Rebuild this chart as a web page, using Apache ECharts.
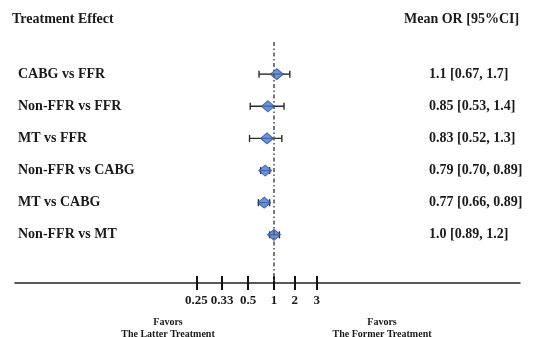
<!DOCTYPE html>
<html>
<head>
<meta charset="utf-8">
<script src="https://cdn.jsdelivr.net/npm/echarts@6/dist/echarts.min.js"></script>
<style>
  html, body { margin: 0; padding: 0; background: #fff; }
  #container { width: 538px; height: 337px; }
</style>
</head>
<body>
<div id="container"></div>
<script>
// forest plot
var dom = document.getElementById('container');
var myChart = echarts.init(dom, null, { renderer: 'canvas' });
var option;

// data
var comparisons = ['CABG vs FFR', 'Non-FFR vs FFR', 'MT vs FFR', 'Non-FFR vs CABG', 'MT vs CABG', 'Non-FFR vs MT'];
var meanOR = [1.1, 0.85, 0.83, 0.79, 0.77, 1.0];
var lowerCI = [0.67, 0.53, 0.52, 0.70, 0.66, 0.89];
var upperCI = [1.7, 1.4, 1.3, 0.89, 0.89, 1.2];
var ciText = ['1.1 [0.67, 1.7]', '0.85 [0.53, 1.4]', '0.83 [0.52, 1.3]', '0.79 [0.70, 0.89]', '0.77 [0.66, 0.89]', '1.0 [0.89, 1.2]'];

// axis ticks (the plot's own OR scale, not evenly logarithmic)
var tickOR = [0.25, 0.33, 0.5, 1, 2, 3];
var tickLabels = ['0.25', '0.33', '0.5', '1', '2', '3'];
var tickPos = [-3, -2, -1, 0, 0.8, 1.65];

// OR -> axis position, piecewise in log space between tick anchors
function scaleOR(v) {
    var n = tickOR.length;
    var i = 0;
    while (i < n - 2 && v > tickOR[i + 1]) i++;
    var a = Math.log(tickOR[i]), b = Math.log(tickOR[i + 1]);
    var f = (Math.log(v) - a) / (b - a);
    return tickPos[i] + f * (tickPos[i + 1] - tickPos[i]);
}

var font = 'Liberation Serif, Times New Roman, serif';
var ink = '#1a1a1a';

var whiskerData = [];
var pointData = [];
for (var i = 0; i < comparisons.length; i++) {
    whiskerData.push([scaleOR(lowerCI[i]), scaleOR(upperCI[i]), i + 1]);
    pointData.push([scaleOR(meanOR[i]), i + 1]);
}

function renderWhisker(params, api) {
    var p1 = api.coord([api.value(0), api.value(2)]);
    var p2 = api.coord([api.value(1), api.value(2)]);
    var h = 3.5;
    var st = { stroke: '#2b2b2b', lineWidth: 1.4 };
    return {
        type: 'group',
        children: [
            { type: 'line', shape: { x1: p1[0], y1: p1[1], x2: p2[0], y2: p2[1] }, style: st },
            { type: 'line', shape: { x1: p1[0], y1: p1[1] - h, x2: p1[0], y2: p1[1] + h }, style: st },
            { type: 'line', shape: { x1: p2[0], y1: p2[1] - h, x2: p2[0], y2: p2[1] + h }, style: st }
        ]
    };
}

var xBase = {
    type: 'value',
    min: -10,
    max: 9.5,
    splitLine: { show: false },
    position: 'bottom'
};

option = {
    animation: false,
    title: [
        {
            text: 'Treatment Effect',
            left: 12, top: 12, padding: 0,
            textStyle: { fontFamily: font, fontSize: 14, fontWeight: 'bold', color: ink }
        },
        {
            text: 'Mean OR [95%CI]',
            left: 404, top: 12, padding: 0,
            textStyle: { fontFamily: font, fontSize: 14, fontWeight: 'bold', color: ink }
        }
    ],
    grid: { left: 15, right: 18, top: 42, bottom: 54, containLabel: false },
    xAxis: [
        Object.assign({}, xBase, {
            axisLine: { show: true, onZero: false, lineStyle: { color: '#222', width: 1.5 } },
            axisTick: { show: true, customValues: tickPos, length: 7, lineStyle: { color: '#111', width: 2 } },
            axisLabel: {
                customValues: tickPos,
                margin: 11,
                formatter: function (v) {
                    for (var k = 0; k < tickPos.length; k++) {
                        if (Math.abs(tickPos[k] - v) < 1e-6) return tickLabels[k];
                    }
                    return '';
                },
                fontFamily: font, fontSize: 13, fontWeight: 'bold', color: ink
            }
        }),
        Object.assign({}, xBase, {
            axisLine: { show: false, onZero: false },
            axisTick: { show: true, inside: true, customValues: tickPos, length: 7, lineStyle: { color: '#111', width: 2 } },
            axisLabel: { show: false }
        })
    ],
    yAxis: [
        {
            type: 'value', position: 'left', inverse: true, min: 0, max: 7.5,
            axisLine: { show: false }, axisTick: { show: false }, splitLine: { show: false },
            axisLabel: {
                inside: true, margin: 3, align: 'left',
                customValues: [1, 2, 3, 4, 5, 6],
                formatter: function (v) { return comparisons[v - 1] || ''; },
                fontFamily: font, fontSize: 14, fontWeight: 'bold', color: ink
            }
        },
        {
            type: 'value', position: 'right', inverse: true, min: 0, max: 7.5,
            axisLine: { show: false }, axisTick: { show: false }, splitLine: { show: false },
            axisLabel: {
                inside: true, margin: 91, align: 'left',
                customValues: [1, 2, 3, 4, 5, 6],
                formatter: function (v) { return ciText[v - 1] || ''; },
                fontFamily: font, fontSize: 14, fontWeight: 'bold', color: ink
            }
        }
    ],
    series: [
        {
            type: 'custom',
            renderItem: renderWhisker,
            data: whiskerData,
            encode: { x: [0, 1], y: 2 },
            silent: true,
            z: 2
        },
        {
            type: 'scatter',
            data: pointData,
            symbol: 'diamond',
            symbolSize: [13, 11],
            itemStyle: { color: '#4a78cf', borderColor: '#2c4f94', borderWidth: 1 },
            clip: false,
            z: 3,
            markLine: {
                silent: true,
                symbol: ['none', 'none'],
                label: { show: false },
                lineStyle: { color: '#555', width: 1.6, type: [4, 2.5, 1.5, 2.5] },
                data: [{ xAxis: scaleOR(1) }]
            }
        }
    ],
    graphic: [
        {
            type: 'text', x: 168, y: 316,
            style: {
                text: 'Favors\nThe Latter Treatment',
                align: 'center', verticalAlign: 'top', lineHeight: 12,
                fontFamily: font, fontSize: 10, fontWeight: 'bold', fill: ink
            }
        },
        {
            type: 'text', x: 382, y: 316,
            style: {
                text: 'Favors\nThe Former Treatment',
                align: 'center', verticalAlign: 'top', lineHeight: 12,
                fontFamily: font, fontSize: 10, fontWeight: 'bold', fill: ink
            }
        }
    ]
};

myChart.setOption(option);
window.addEventListener('resize', myChart.resize);
</script>
</body>
</html>
